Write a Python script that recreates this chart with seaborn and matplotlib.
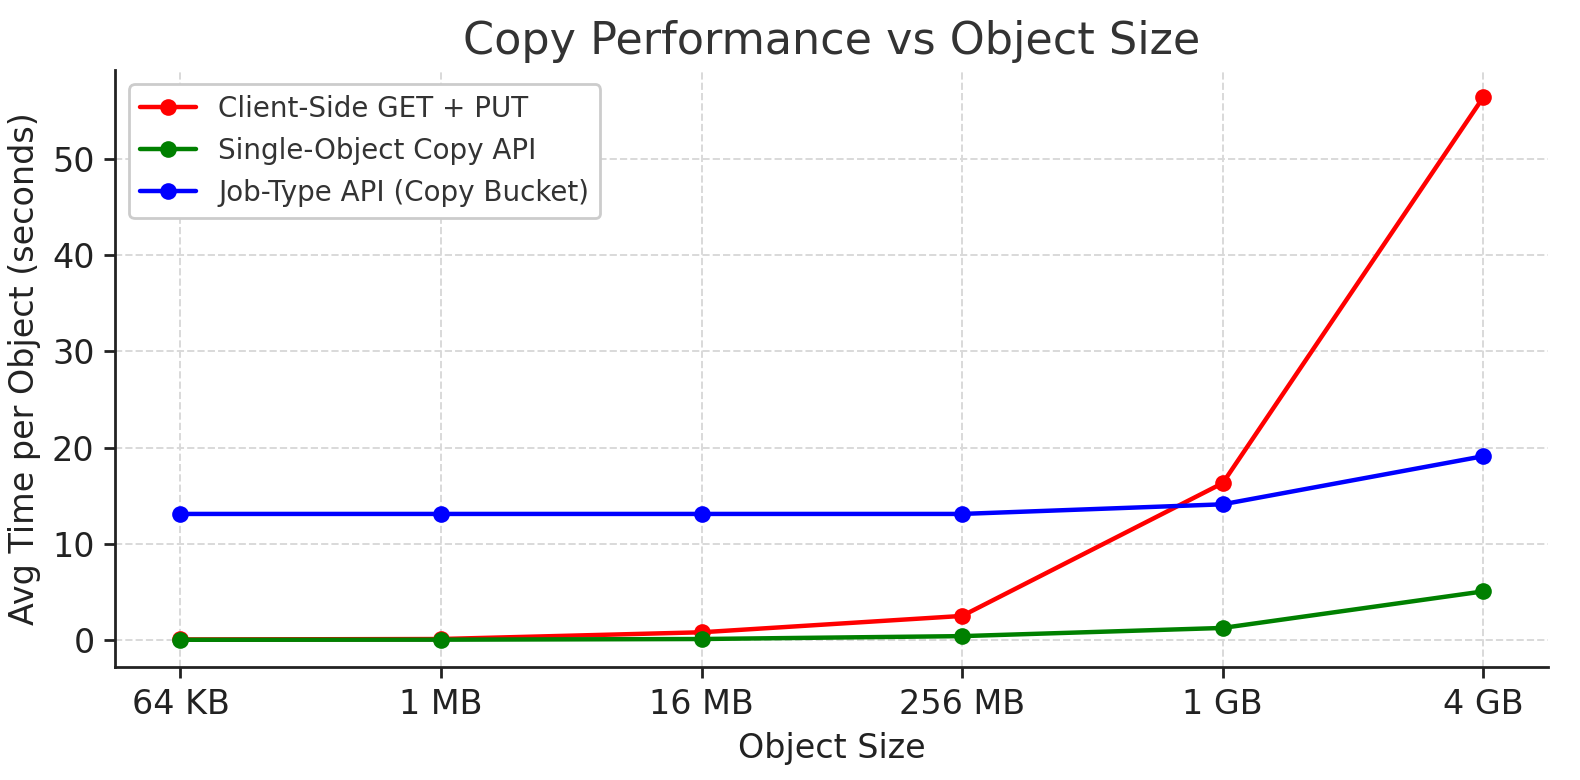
import matplotlib
matplotlib.use("Agg")
import matplotlib.pyplot as plt
import seaborn as sns
import pandas as pd

# data
sizes = ["64 KB", "1 MB", "16 MB", "256 MB", "1 GB", "4 GB"]
client_get_put = [0.05, 0.1, 0.8, 2.5, 16.3, 56.4]
single_copy_api = [0.02, 0.03, 0.1, 0.4, 1.25, 5.05]
job_type_api = [13.1, 13.1, 13.1, 13.1, 14.1, 19.1]

series = {
    "Client-Side GET + PUT": (client_get_put, "red"),
    "Single-Object Copy API": (single_copy_api, "green"),
    "Job-Type API (Copy Bucket)": (job_type_api, "blue"),
}

sns.set_theme(style="ticks")
plt.rcParams["font.family"] = ["DejaVu Sans"]

fig = plt.figure(figsize=(7.9, 3.9), dpi=200)
ax = fig.add_axes([0.073, 0.145, 0.907, 0.765])

for name, (vals, color) in series.items():
    df = pd.DataFrame({"size": sizes, "time": vals})
    sns.lineplot(data=df, x="size", y="time", ax=ax, color=color, label=name,
                 marker="o", markersize=6, markeredgecolor=color,
                 markeredgewidth=0, linewidth=1.6, sort=False)

ax.grid(True, linestyle="--", color="#d9d9d9", linewidth=0.7)
ax.set_axisbelow(True)
ax.margins(x=0.05, y=0.05)
ax.set_title("Copy Performance vs Object Size", fontsize=16, color="#333333")
ax.set_xlabel("Object Size", fontsize=12, color="#222222")
ax.set_ylabel("Avg Time per Object (seconds)", fontsize=12, color="#222222")
ax.tick_params(axis="both", labelsize=12, colors="#222222", length=4, width=1)
for side in ["top", "right"]:
    ax.spines[side].set_visible(False)
for side in ["left", "bottom"]:
    ax.spines[side].set_color("#222222")
    ax.spines[side].set_linewidth(1.0)

leg = ax.legend(loc="upper left", fontsize=10, frameon=True, fancybox=True,
                edgecolor="#cccccc", framealpha=1)
for t in leg.get_texts():
    t.set_color("#333333")

fig.savefig("out.png", dpi=200)
